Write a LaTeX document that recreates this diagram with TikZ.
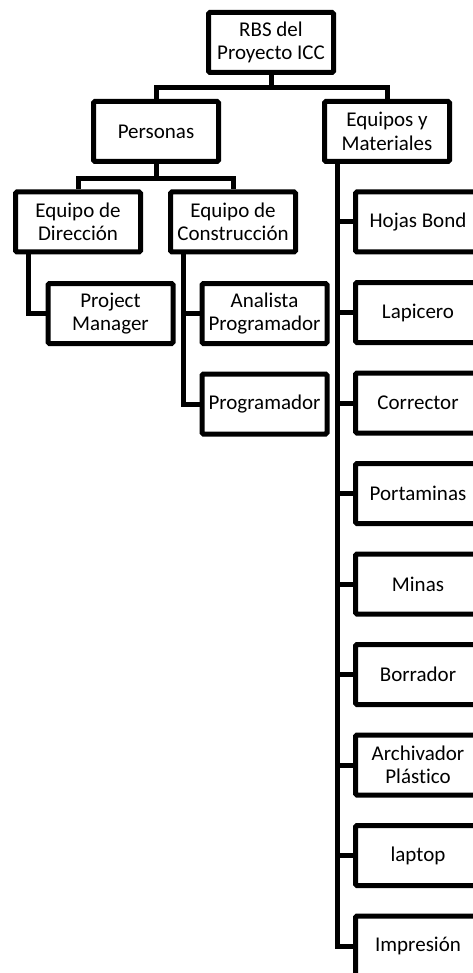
\documentclass[tikz,border=0pt]{standalone}
\usepackage{fontspec}
\setmainfont[Ligatures=NoCommon]{Carlito}

\begin{document}
\begin{tikzpicture}[%
	x=1pt, y=-1pt,
	every node/.style={
		font=\fontsize{21}{23.5}\selectfont,
	},
	box/.style={draw, line width=5pt, rounded corners=1.5pt,
		minimum width=125pt, minimum height=60pt,
		align=center, inner sep=0pt},
	link/.style={line width=5pt},
	]
	\useasboundingbox (0,0) rectangle (473,973);
	
	% top levels
	\node[box] (rbs) at (271,42.5) {RBS del\\Proyecto ICC};
	\node[box] (personas) at (156,131.5) {Personas};
	\node[box] (equipos) at (387,131.5) {Equipos y\\Materiales};
	
	% personas branch
	\node[box] (direccion) at (78,222) {Equipo de\\Dirección};
	\node[box] (construccion) at (233,222) {Equipo de\\Construcción};
	\node[box] (manager) at (110.5,313.5) {Project\\Manager};
	\node[box] (analista) at (264.5,313.5) {Analista\\Programador};
	\node[box] (programador) at (264.5,404) {Programador};
	
	% connectors
	\draw[link] (rbs.south) -- ++(0,13) -| (personas.north);
	\draw[link] (rbs.south) -- ++(0,13) -| (equipos.north);
	\draw[link] (personas.south) -- ++(0,15) -| (direccion.north);
	\draw[link] (personas.south) -- ++(0,15) -| (construccion.north);
	\draw[link] ([xshift=15pt]direccion.south west) |- (manager.west);
	\draw[link] ([xshift=15pt]construccion.south west) |- (analista.west);
	\draw[link] ([xshift=15pt]construccion.south west) |- (programador.west);
	
	% equipos y materiales list
	\foreach \name/\txt [count=\i from 0] in {hojas/{Hojas Bond}, lapicero/{Lapicero},
		corrector/{Corrector}, portaminas/{Portaminas}, minas/{Minas},
		borrador/{Borrador}, archivador/{Archivador\\Plástico},
		laptop/{laptop}, impresion/{Impresión}}{
		\node[box] (\name) at (418,222+90.5*\i) {\txt};
		\draw[link] ([xshift=15pt]equipos.south west) |- (\name.west);
	}
\end{tikzpicture}
\end{document}
